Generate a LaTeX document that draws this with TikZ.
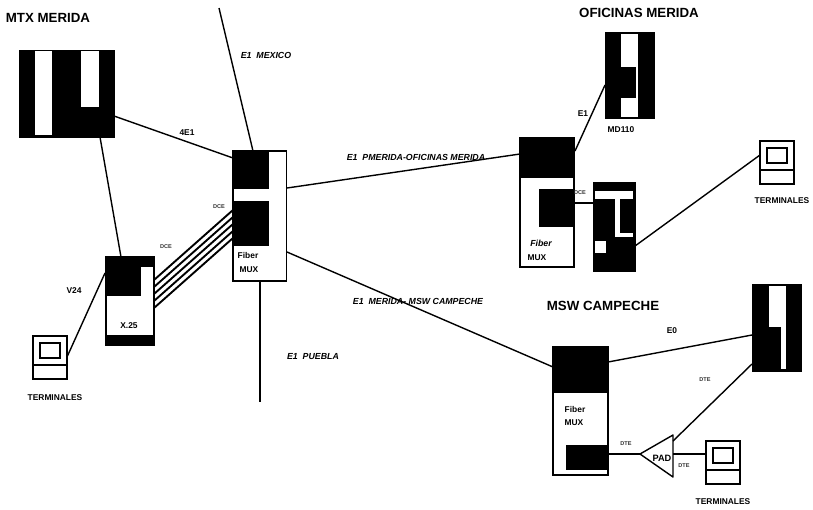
\documentclass[tikz,border=0pt]{standalone}
\usepackage{fontspec}
\setmainfont{Liberation Sans}
\tikzset{
 unit/.style={draw=black,line width=1.3pt,inner sep=0pt,outer sep=0pt,anchor=north west,fill=white},
 solid block/.style={fill=black,draw=black,line width=.6pt,inner sep=0pt,outer sep=0pt,anchor=north west},
 hole/.style={fill=white,draw=none,inner sep=0pt,outer sep=0pt,anchor=north west},
 wire/.style={line width=1.4pt,black},
 thinwire/.style={line width=1.9pt,black},
 title/.style={font=\bfseries\fontsize{13.3}{14}\selectfont,inner sep=0pt},
 lab/.style={font=\bfseries\fontsize{8.4}{9}\selectfont,inner sep=0pt},
 ilab/.style={font=\bfseries\itshape\fontsize{8.8}{9}\selectfont,inner sep=0pt},
 tiny lab/.style={font=\bfseries\fontsize{5.6}{6}\selectfont,inner sep=0pt,text=black!80},
}
\newcommand{\bx}[6][unit]{\node[#1,minimum width=#4pt,minimum height=#5pt] (#2) at (#3) {#6};}
\newcommand{\terminal}[3]{%
 \bx{#1}{#2,#3}{34}{43}{}
 \bx{#1s}{#2+7,#3+7}{20}{15}{}
 \coordinate (#1d) at (#2,#3+29);
 \coordinate (#1e) at (#2+34,#3+29);
 \draw[wire] (#1d) -- (#1e);
}
\begin{document}
\begin{tikzpicture}[x=1pt,y=-1pt]
\useasboundingbox (0,0) rectangle (813,509);
% titles
\node[title] (t1) at (48,18) {MTX MERIDA};
\node[title] (t2) at (639,13) {OFICINAS MERIDA};
\node[title] (t3) at (603,306) {MSW CAMPECHE};
% MTX
\bx[solid block]{mtx}{19,50}{95}{87}{}
\bx[hole]{mtxa}{34.5,51}{17.5}{84}{}
\bx[hole]{mtxb}{81,51}{17.5}{56}{}
% Mux 1
\bx{muxa}{233,151}{53.5}{130}{}
\bx[solid block]{muxat}{233,151}{35}{37}{}
\bx[solid block]{muxab}{233,201}{35}{44}{}
\node[lab] (fa) at (248,255) {Fiber};
\node[lab] (ma) at (249,270) {MUX};
% X.25
\bx{xt}{106,257}{48}{88}{}
\bx[solid block]{xta}{106,257}{48}{9}{}
\bx[solid block]{xtb}{106,257}{34}{38}{}
\bx[solid block]{xtc}{106,335}{48}{10}{}
\node[lab] (xl) at (129,326) {X.25};
% Terminals
\terminal{ta}{33}{336}
\terminal{tb}{760}{141}
\terminal{tc}{706}{441}
\node[lab] (tla) at (55,398) {TERMINALES};
\node[lab] (tlb) at (782,201) {TERMINALES};
\node[lab] (tlc) at (723,502) {TERMINALES};
% MD110
\bx[solid block]{md}{605,32}{49}{86}{}
\bx[hole]{mda}{621,34}{17}{83}{}
\bx[solid block]{mdb}{621,67}{14}{30}{}
\node[lab] (mdl) at (621,130) {MD110};
% Mux 2
\bx{muxb}{520,138}{54}{129}{}
\bx[solid block]{muxbt}{520,138}{54}{39}{}
\bx[solid block]{muxbi}{539,189}{35}{37}{}
\node[ilab] (fb) at (541,243) {Fiber};
\node[lab] (mb) at (537,258) {MUX};
% Oficinas device
\bx[solid block]{dv}{593,182}{42}{89}{}
\bx[hole]{dva}{595,191}{38}{7.5}{}
\bx[hole]{dvb}{615,198}{4.5}{39}{}
\bx[hole]{dvc}{615,233}{18}{4}{}
\bx[hole]{dvd}{595,241}{11}{12}{}
% Mux 3
\bx{muxc}{553,347}{55}{128}{}
\bx[solid block]{muxct}{553,347}{55}{45}{}
\bx[solid block]{muxci}{566,445}{42}{24}{}
\node[lab] (fc) at (575,409) {Fiber};
\node[lab] (mc) at (574,423) {MUX};
% Campeche device
\bx[solid block]{cd}{752,284}{49}{87}{}
\bx[hole]{cda}{768.5,286}{17.5}{41}{}
\bx[hole]{cdb}{780.5,327}{5.5}{42}{}
% PAD
\coordinate (pt) at (640,454);
\coordinate (pu) at (673,435);
\coordinate (pl) at (673,477);
\draw[wire,fill=white,line join=round] (pt) -- (pu) -- (pl) -- cycle;
\node[lab,font=\bfseries\fontsize{9.2}{10}\selectfont] (padl) at (662,458) {PAD};
\coordinate (pr) at (673,454);
% free ends and ports
\coordinate (mex) at (219,8);
\coordinate (mexb) at (253,151);
\coordinate (pue) at (260,402);
\coordinate (pueb) at (260,281);
\coordinate (mtxe) at (114,116);
\coordinate (muxaw) at (233,158);
\coordinate (mtxs) at (100,137);
\coordinate (xn) at (121,257);
\coordinate (xw) at (105,273);
\coordinate (tae) at (67,357);
\coordinate (aeo) at (287,188);
\coordinate (bwo) at (520,154);
\coordinate (aes) at (287,252);
\coordinate (cwo) at (553,367);
\coordinate (mdw) at (605,85);
\coordinate (bne) at (575,151);
\coordinate (bie) at (574,203);
\coordinate (dvw) at (593,203);
\coordinate (dve) at (635,246);
\coordinate (tbw) at (760,155);
\coordinate (cne) at (608,362);
\coordinate (cdw) at (752,335);
\coordinate (cdw2) at (752,364);
\coordinate (pun) at (673,441);
\coordinate (cie) at (608,454);
\coordinate (tcw) at (706,454);
% connectors
\draw[wire] (mex) -- (mexb);
\draw[wire] (pueb) -- (pue);
\draw[wire] (mtxe) -- (muxaw);
\draw[wire] (mtxs) -- (xn);
\draw[wire] (xw) -- (tae);
\draw[wire] (aeo) -- (bwo);
\draw[wire] (aes) -- (cwo);
\draw[wire] (mdw) -- (bne);
\draw[wire] (bie) -- (dvw);
\draw[wire] (dve) -- (tbw);
\draw[wire] (cne) -- (cdw);
\draw[wire] (cdw2) -- (pun);
\draw[wire] (cie) -- (pt);
\draw[wire] (pr) -- (tcw);
% five parallel links
\foreach \i in {0,...,4}{
 \coordinate (xl\i) at (154,280+7*\i);
 \coordinate (ml\i) at (233,210+7*\i);
 \draw[thinwire] (xl\i) -- (ml\i);
}
% labels
\node[ilab] (l1) at (266,55) {E1\ \ MEXICO};
\node[lab] (l2) at (187,133) {4E1};
\node[ilab] (l3) at (313,357) {E1\ \ PUEBLA};
\node[ilab] (l4) at (416,157) {E1\ \ PMERIDA-OFICINAS MERIDA};
\node[ilab] (l5) at (418,301) {E1\ \ MERIDA- MSW CAMPECHE};
\node[lab] (l6) at (74,291) {V24};
\node[lab] (l7) at (583,114) {E1};
\node[lab] (l8) at (672,331) {E0};
\node[tiny lab] (d1) at (219,207) {DCE};
\node[tiny lab] (d2) at (166,247) {DCE};
\node[tiny lab] (d3) at (580,193) {DCE};
\node[tiny lab] (d4) at (705,380) {DTE};
\node[tiny lab] (d5) at (626,444) {DTE};
\node[tiny lab] (d6) at (684,466) {DTE};
\end{tikzpicture}
\end{document}
